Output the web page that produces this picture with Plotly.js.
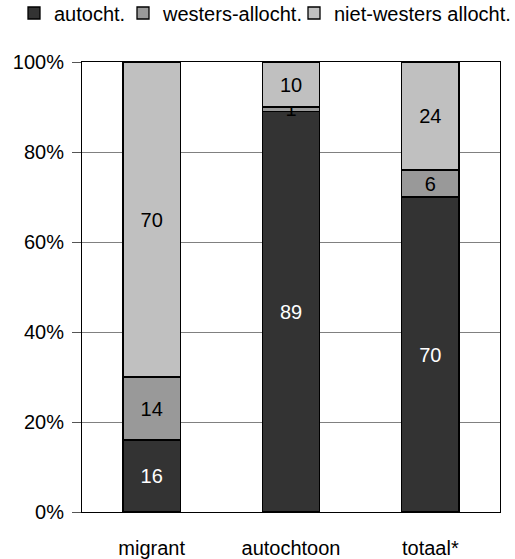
<!DOCTYPE html>
<html>
<head>
<meta charset="utf-8">
<script src="https://cdn.plot.ly/plotly-3.0.1.min.js"></script>
<style>html,body{margin:0;padding:0;background:#fff;}#chart{width:515px;height:559px;}</style>
</head>
<body>
<div id="chart"></div>
<script>
var categories = ["migrant", "autochtoon", "totaal*"];
var seriesNames = ["autocht.", "westers-allocht.", "niet-westers allocht."];
var autocht = [16, 89, 70];
var westers = [14, 1, 6];
var nietWesters = [70, 10, 24];
var tickVals = [0, 20, 40, 60, 80, 100];
var tickLabels = ["0%", "20%", "40%", "60%", "80%", "100%"];

var colors = ["#333333", "#999999", "#c0c0c0"];
var textColors = ["#ffffff", "#000000", "#000000"];
var series = [autocht, westers, nietWesters];
var legendIds = ["legend", "legend2", "legend3"];
var legendX = [24, 133, 304];
var FONT = "Arial";

var traces = series.map(function (vals, i) {
  return {
    type: "bar",
    name: seriesNames[i],
    legend: legendIds[i],
    x: categories,
    y: vals,
    text: vals.map(String),
    textposition: "inside",
    insidetextanchor: "middle",
    textangle: 0,
    constraintext: "none",
    textfont: {family: FONT, size: 20, color: textColors[i]},
    marker: {color: colors[i], line: {color: "#000000", width: 1.3}},
    width: 0.41,
    hoverinfo: "none"
  };
});

var layout = {
  width: 515,
  height: 559,
  barmode: "stack",
  margin: {l: 82, r: 15, t: 62, b: 47},
  paper_bgcolor: "#ffffff",
  plot_bgcolor: "#ffffff",
  font: {family: FONT, size: 20, color: "#000000"},
  uniformtext: {mode: "show", minsize: 20},
  showlegend: true,
  xaxis: {
    showline: true,
    linecolor: "#000000",
    linewidth: 1,
    mirror: true,
    ticks: "",
    ticklabelstandoff: 18,
    tickfont: {family: FONT, size: 20},
    showgrid: false,
    zeroline: false
  },
  yaxis: {
    range: [0, 100],
    tickvals: tickVals,
    ticktext: tickLabels,
    ticks: "outside",
    ticklen: 9,
    tickcolor: "#555555",
    ticklabelstandoff: 4,
    showline: true,
    linecolor: "#000000",
    linewidth: 1,
    mirror: true,
    showgrid: true,
    gridcolor: "#808080",
    gridwidth: 1,
    zeroline: false,
    tickfont: {family: FONT, size: 20}
  }
};

legendIds.forEach(function (id, i) {
  layout[id] = {
    orientation: "h",
    xref: "container",
    yref: "container",
    x: legendX[i] / 515,
    xanchor: "left",
    y: 1 - 13 / 559,
    yanchor: "middle",
    font: {family: FONT, size: 20},
    itemwidth: 30,
    indentation: -10,
    bgcolor: "rgba(0,0,0,0)"
  };
});

Plotly.newPlot("chart", traces, layout, {displayModeBar: false, staticPlot: true});
</script>
</body>
</html>
